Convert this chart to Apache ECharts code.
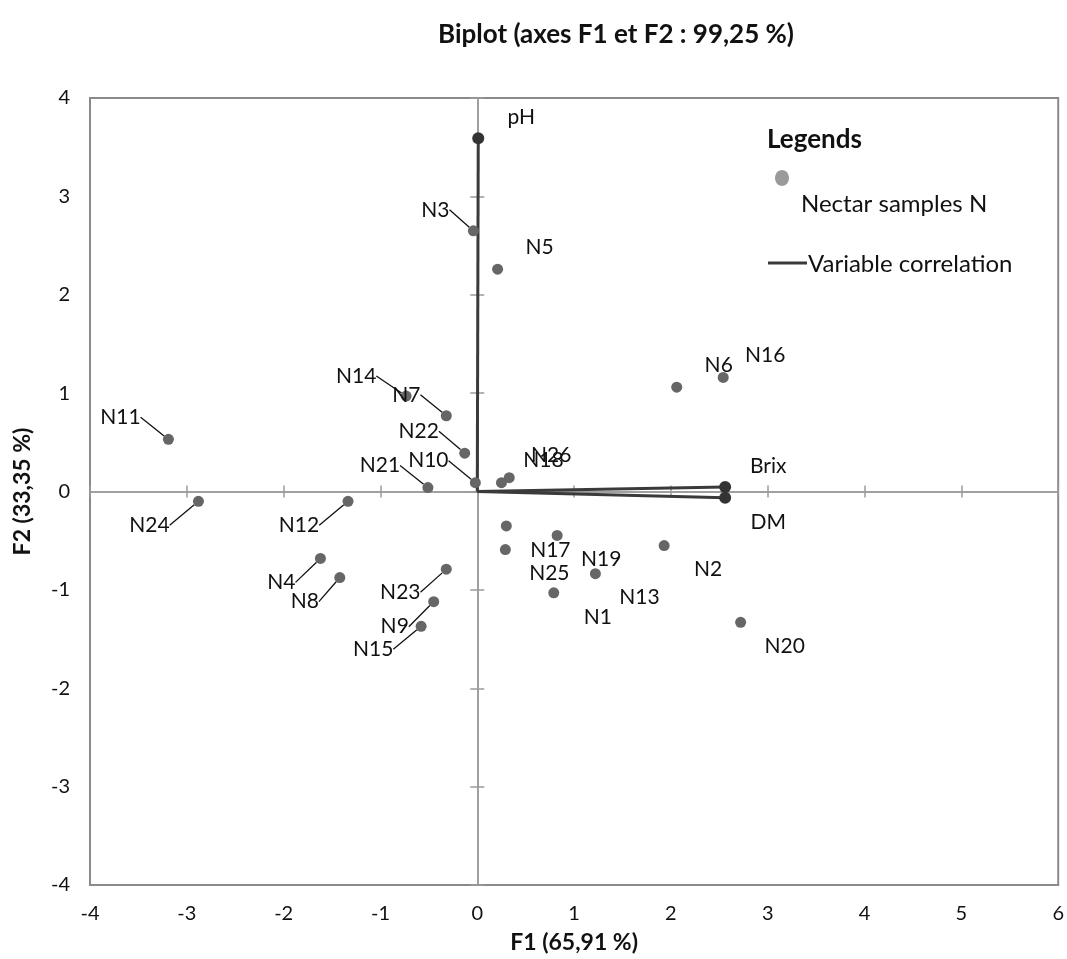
<!DOCTYPE html>
<html>
<head>
<meta charset="utf-8">
<script src="https://cdn.jsdelivr.net/npm/echarts@6/dist/echarts.min.js"></script>
<style>
  html, body { margin: 0; padding: 0; background: #fff; }
  #chart { width: 1067px; height: 959px; }
</style>
</head>
<body>
<div id="chart"></div>
<script>
// samples (observations) on F1 / F2
var sampleNames = ['N1','N2','N3','N4','N5','N6','N7','N8','N9','N10','N11','N12','N13',
                   'N14','N15','N16','N17','N18','N19','N20','N21','N22','N23','N24','N25','N26'];
var sampleF1 = [0.79, 1.93, -0.04, -1.62, 0.21, 2.06, -0.32, -1.42, -0.45, -0.02, -3.19, -1.335, 1.22,
                -0.735, -0.58, 2.54, 0.30, 0.25, 0.825, 2.72, -0.51, -0.13, -0.32, -2.88, 0.29, 0.33];
var sampleF2 = [-1.03, -0.55, 2.65, -0.68, 2.26, 1.06, 0.77, -0.875, -1.12, 0.09, 0.53, -0.10, -0.835,
                0.97, -1.37, 1.16, -0.35, 0.09, -0.446, -1.33, 0.04, 0.39, -0.79, -0.10, -0.59, 0.14];

// variables (correlation vectors)
var varNames = ['pH', 'Brix', 'DM'];
var varF1 = [0.01, 2.56, 2.56];
var varF2 = [3.59, 0.045, -0.064];

var xTicks = [-4, -3, -2, -1, 0, 1, 2, 3, 4, 5, 6];
var yTicks = [-4, -3, -2, -1, 0, 1, 2, 3, 4];

// label placement (pixels from the point), callouts moved by hand
var movedLabels = {
    N3: [-38, -21], N14: [-50, -20], N7: [-40, -21], N11: [-48, -22],
    N22: [-46, -22], N10: [-47, -22], N21: [-48, -22], N24: [-49, 24],
    N12: [-49, 24], N4: [-39, 24], N8: [-35, 24], N23: [-46, 23],
    N9: [-39, 25], N15: [-48, 23]
};

var font = 'Lato, "Open Sans", sans-serif';
var chart = echarts.init(document.getElementById('chart'));

var samples = sampleNames.map(function (n, i) {
    var item = { name: n, value: [sampleF1[i], sampleF2[i]] };
    if (movedLabels[n]) item.labelLine = { show: true };
    return item;
});

function labelShift(name, y) {
    if (movedLabels[name]) return movedLabels[name];
    return y >= 0 ? [42, -22] : [44, 24];
}

var series = [{
    type: 'scatter',
    data: samples,
    symbolSize: 11,
    itemStyle: { color: '#666', opacity: 1 },
    z: 3,
    label: {
        show: true,
        position: 'inside',
        formatter: '{b}',
        color: '#111',
        opacity: 1,
        textBorderWidth: 0,
        fontSize: 21,
        fontFamily: font
    },
    labelLine: { show: false, lineStyle: { color: '#111', width: 1.3, opacity: 1 } },
    labelLayout: function (p) {
        var s = labelShift(sampleNames[p.dataIndex], sampleF2[p.dataIndex]);
        return { dx: s[0], dy: s[1] };
    }
}];

varNames.forEach(function (n, i) {
    series.push({
        type: 'line',
        data: [
            { value: [0, 0], symbol: 'none', label: { show: false } },
            { value: [varF1[i], varF2[i]], name: n }
        ],
        symbol: 'circle',
        symbolSize: 12,
        lineStyle: { color: '#3a3a3a', width: 3 },
        itemStyle: { color: '#333' },
        z: 2,
        label: {
            show: true,
            position: 'inside',
            formatter: n,
            color: '#111',
            textBorderWidth: 0,
            fontSize: 21,
            fontFamily: font
        },
        labelLayout: function () {
            return varF2[i] >= 0 ? { dx: 43, dy: -21 } : { dx: 43, dy: 24 };
        }
    });
});

var axisCommon = { type: 'value', splitLine: { show: false } };

chart.setOption({
    animation: false,
    backgroundColor: '#fff',
    title: {
        text: 'Biplot (axes F1 et F2 : 99,25 %)',
        left: 611, top: 17, textAlign: 'center',
        textStyle: { fontSize: 26, fontWeight: 'bold', color: '#111', fontFamily: font }
    },
    grid: {
        left: 90, right: 5, top: 98, bottom: 72,
        show: true, borderColor: '#8a8a8a', borderWidth: 2
    },
    xAxis: [
        Object.assign({}, axisCommon, {
            min: -4, max: 6, interval: 1, position: 'bottom',
            name: 'F1 (65,91 %)', nameLocation: 'middle', nameGap: 46,
            nameTextStyle: { fontSize: 23, fontWeight: 'bold', color: '#111', fontFamily: font },
            axisLine: { onZero: false, lineStyle: { color: '#8a8a8a', width: 2 } },
            axisTick: { show: false },
            axisLabel: { fontSize: 20, color: '#111', margin: 19, fontFamily: font,
                         formatter: function (v) { return xTicks.indexOf(v) >= 0 ? String(v) : ''; } }
        }),
        Object.assign({}, axisCommon, {
            min: -4, max: 6, interval: 1, position: 'bottom',
            axisLine: { onZero: true, onZeroAxisIndex: 1, lineStyle: { color: '#9a9a9a', width: 1.5 } },
            axisTick: { show: true, inside: false, length: 6, lineStyle: { color: '#9a9a9a', width: 1.5 } },
            axisLabel: { show: false }
        }),
        Object.assign({}, axisCommon, {
            min: -4, max: 6, interval: 1, position: 'bottom',
            axisLine: { onZero: true, onZeroAxisIndex: 2, lineStyle: { color: '#9a9a9a', width: 1.5 } },
            axisTick: { show: true, inside: true, length: 6, lineStyle: { color: '#9a9a9a', width: 1.5 } },
            axisLabel: { show: false }
        })
    ],
    yAxis: [
        Object.assign({}, axisCommon, {
            min: -4, max: 4, interval: 1, position: 'left',
            name: 'F2 (33,35 %)', nameLocation: 'middle', nameGap: 56, nameRotate: 90,
            nameTextStyle: { fontSize: 23, fontWeight: 'bold', color: '#111', fontFamily: font },
            axisLine: { onZero: false, lineStyle: { color: '#8a8a8a', width: 2 } },
            axisTick: { show: false },
            axisLabel: { fontSize: 20, color: '#111', margin: 20, fontFamily: font,
                         formatter: function (v) { return yTicks.indexOf(v) >= 0 ? String(v) : ''; } }
        }),
        Object.assign({}, axisCommon, {
            min: -4, max: 4, interval: 1, position: 'left',
            axisLine: { onZero: true, onZeroAxisIndex: 1, lineStyle: { color: '#9a9a9a', width: 1.5 } },
            axisTick: { show: true, inside: false, length: 7, lineStyle: { color: '#9a9a9a', width: 1.5 } },
            axisLabel: { show: false }
        }),
        Object.assign({}, axisCommon, {
            min: -4, max: 4, interval: 1, position: 'left',
            axisLine: { onZero: true, onZeroAxisIndex: 2, lineStyle: { color: '#9a9a9a', width: 1.5 } },
            axisTick: { show: true, inside: true, length: 7, lineStyle: { color: '#9a9a9a', width: 1.5 } },
            axisLabel: { show: false }
        })
    ],
    graphic: [
        { type: 'text', left: 767, top: 127,
          style: { text: 'Legends', fontSize: 26, fontWeight: 'bold', fill: '#111', fontFamily: font } },
        { type: 'ellipse', shape: { cx: 782, cy: 178, rx: 7, ry: 8 }, style: { fill: '#9a9a9a' } },
        { type: 'text', left: 801, top: 192,
          style: { text: 'Nectar samples N', fontSize: 24, fill: '#111', fontFamily: font } },
        { type: 'line', shape: { x1: 768, y1: 263, x2: 807, y2: 263 },
          style: { stroke: '#3a3a3a', lineWidth: 3 } },
        { type: 'text', left: 808, top: 252,
          style: { text: 'Variable correlation', fontSize: 24, fill: '#111', fontFamily: font } }
    ],
    series: series
});
</script>
</body>
</html>
